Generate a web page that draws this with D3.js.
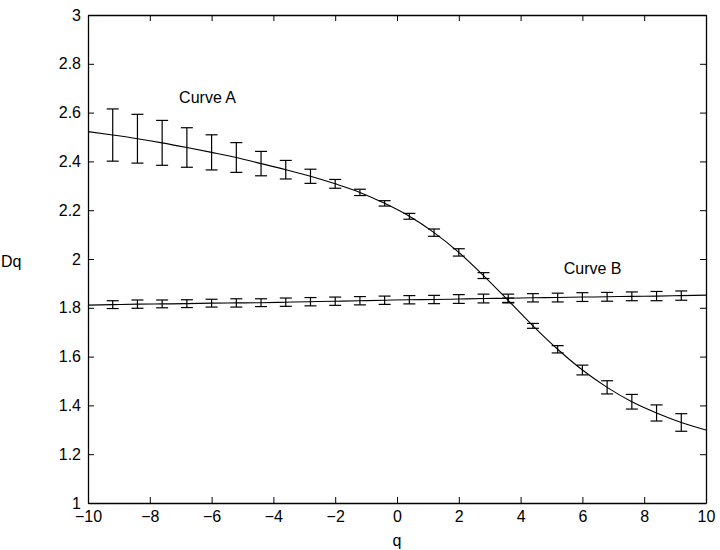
<!DOCTYPE html>
<html>
<head>
<meta charset="utf-8">
<script src="https://cdn.jsdelivr.net/npm/d3@7"></script>
<style>
  html, body { margin: 0; padding: 0; background: #fff; }
  svg text { font-family: "Liberation Sans", Arial, Helvetica, sans-serif; }
</style>
</head>
<body>
<svg id="chart" width="720" height="550"></svg>
<script>
// ---- data ----
const qPoints = [-9.2, -8.4, -7.6, -6.8, -6.0, -5.2, -4.4, -3.6, -2.8, -2.0, -1.2, -0.4,
                  0.4, 1.2, 2.0, 2.8, 3.6, 4.4, 5.2, 6.0, 6.8, 7.6, 8.4, 9.2];
const curveAValues = [2.508, 2.493, 2.476, 2.457, 2.437, 2.416, 2.391, 2.366, 2.339, 2.308, 2.273, 2.228,
                      2.175, 2.108, 2.027, 1.932, 1.830, 1.726, 1.630, 1.545, 1.474, 1.415, 1.369, 1.330];
const curveAErrors = [0.107, 0.100, 0.092, 0.081, 0.072, 0.061, 0.050, 0.038, 0.029, 0.018, 0.013, 0.011,
                      0.012, 0.015, 0.015, 0.012, 0.010, 0.010, 0.015, 0.020, 0.027, 0.030, 0.033, 0.036];
const curveBValues = [1.813, 1.815, 1.816, 1.817, 1.819, 1.820, 1.821, 1.823, 1.825, 1.827, 1.829, 1.831,
                      1.833, 1.834, 1.836, 1.838, 1.839, 1.841, 1.842, 1.844, 1.845, 1.847, 1.848, 1.850];
const curveBErrors = [0.016, 0.017, 0.016, 0.016, 0.016, 0.017, 0.016, 0.017, 0.017, 0.017, 0.017, 0.017,
                      0.017, 0.017, 0.018, 0.018, 0.017, 0.017, 0.018, 0.018, 0.018, 0.018, 0.019, 0.019];
// fitted curve end values at the axis limits
const curveAEnds = [[-10, 2.522], [10, 1.299]];
const curveBEnds = [[-10, 1.811], [10, 1.852]];
const xTicks = [-10, -8, -6, -4, -2, 0, 2, 4, 6, 8, 10];
const yTicks = [1, 1.2, 1.4, 1.6, 1.8, 2, 2.2, 2.4, 2.6, 2.8, 3];
const yTickLabels = ["1", "1.2", "1.4", "1.6", "1.8", "2", "2.2", "2.4", "2.6", "2.8", "3"];
const labels = [{text: "Curve A", q: -6.13, v: 2.639}, {text: "Curve B", q: 6.33, v: 1.939}];

// ---- layout ----
const svg = d3.select("#chart");
const m = {left: 88, right: 706, top: 15, bottom: 503};
const x = d3.scaleLinear().domain([-10, 10]).range([m.left, m.right]);
const y = d3.scaleLinear().domain([1, 3]).range([m.bottom, m.top]);

const fmtX = d => (d < 0 ? "\u2212" + Math.abs(d) : String(d));
const fs = 16;

// axes (ticks inward on all four sides)
const tickLen = 6;
const axB = svg.append("g").attr("transform", `translate(0,${m.bottom})`)
  .call(d3.axisBottom(x).tickValues(xTicks).tickFormat(fmtX).tickSizeInner(-tickLen).tickSizeOuter(0).tickPadding(8));
const axT = svg.append("g").attr("transform", `translate(0,${m.top})`)
  .call(d3.axisTop(x).tickValues(xTicks).tickFormat("").tickSizeInner(-tickLen).tickSizeOuter(0));
const axL = svg.append("g").attr("transform", `translate(${m.left},0)`)
  .call(d3.axisLeft(y).tickValues(yTicks).tickFormat((d, i) => yTickLabels[i]).tickSizeInner(-tickLen).tickSizeOuter(0).tickPadding(7));
const axR = svg.append("g").attr("transform", `translate(${m.right},0)`)
  .call(d3.axisRight(y).tickValues(yTicks).tickFormat("").tickSizeInner(-tickLen).tickSizeOuter(0));

[axB, axT, axL, axR].forEach(g => {
  g.selectAll("path.domain").attr("stroke", "#000").attr("stroke-width", 1.3);
  g.selectAll(".tick line").attr("stroke", "#000").attr("stroke-width", 1);
  g.selectAll(".tick text").attr("font-size", fs).attr("fill", "#000");
});
axB.selectAll(".tick text").attr("dy", "0.71em");

// axis titles
svg.append("text").attr("x", (m.left + m.right) / 2).attr("y", 546)
  .attr("text-anchor", "middle").attr("font-size", fs).text("q");
svg.append("text").attr("x", 1).attr("y", 267)
  .attr("text-anchor", "start").attr("font-size", fs).text("Dq");

// curves
const line = d3.line().x(d => x(d[0])).y(d => y(d[1])).curve(d3.curveMonotoneX);
const aPts = [curveAEnds[0], ...qPoints.map((q, i) => [q, curveAValues[i]]), curveAEnds[1]];
const bPts = [curveBEnds[0], ...qPoints.map((q, i) => [q, curveBValues[i]]), curveBEnds[1]];
svg.append("path").attr("d", line(aPts)).attr("fill", "none").attr("stroke", "#000").attr("stroke-width", 1.1);
svg.append("path").attr("d", line(bPts)).attr("fill", "none").attr("stroke", "#000").attr("stroke-width", 1.1);

// error bars
const cap = 6;
function errorBars(vals, errs) {
  const g = svg.append("g").attr("stroke", "#000").attr("stroke-width", 1.2);
  qPoints.forEach((q, i) => {
    const cx = x(q), y1 = y(vals[i] + errs[i]), y0 = y(vals[i] - errs[i]);
    g.append("line").attr("x1", cx).attr("x2", cx).attr("y1", y1).attr("y2", y0);
    g.append("line").attr("x1", cx - cap).attr("x2", cx + cap).attr("y1", y1).attr("y2", y1);
    g.append("line").attr("x1", cx - cap).attr("x2", cx + cap).attr("y1", y0).attr("y2", y0);
  });
}
errorBars(curveAValues, curveAErrors);
errorBars(curveBValues, curveBErrors);

// curve labels
labels.forEach(l => {
  svg.append("text").attr("x", x(l.q)).attr("y", y(l.v)).attr("text-anchor", "middle")
    .attr("font-size", fs).text(l.text);
});
</script>
</body>
</html>
